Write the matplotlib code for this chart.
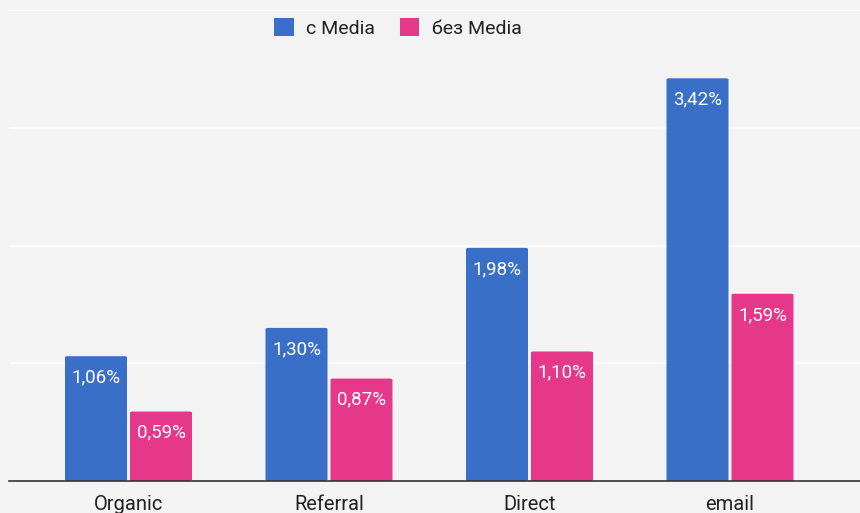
import matplotlib
matplotlib.use("Agg")
import matplotlib.pyplot as plt
from matplotlib.patches import FancyBboxPatch
import numpy as np

plt.rcParams['font.family'] = ['Roboto', 'DejaVu Sans']

categories = ["Organic", "Referral", "Direct", "email"]
with_media = [1.06, 1.30, 1.98, 3.42]
without_media = [0.59, 0.87, 1.10, 1.59]
series_names = ["с Media", "без Media"]

BLUE = "#3a6fc7"
PINK = "#e6388a"
BG = "#f3f3f3"

fig = plt.figure(figsize=(8.6, 5.13), dpi=100, facecolor=BG)
ax = fig.add_axes([9 / 860, 32 / 513, 851 / 860, 471 / 513], facecolor=BG)

x = np.arange(len(categories))
w = 62 / 200.5
off = (62 + 3) / 2 / 200.5


def fmt(v):
    return f"{v:.2f}".replace(".", ",") + "%"


def draw_bars(xs, vals, color):
    for xi, v in zip(xs, vals):
        p = FancyBboxPatch((xi - w / 2, 0), w, v,
                           boxstyle="round,pad=0,rounding_size=0.012",
                           mutation_aspect=0.94,
                           facecolor=color, edgecolor="none", zorder=3)
        ax.add_patch(p)
        ax.text(xi, v - 0.18, fmt(v), ha="center", va="center",
                color="white", fontsize=13.5, zorder=4)


draw_bars(x - off, with_media, BLUE)
draw_bars(x + off, without_media, PINK)

ax.set_xlim((9 - 128.5) / 200.5, (860 - 128.5) / 200.5)
ax.set_ylim(0, 4.0)
ax.set_yticks([1, 2, 3, 4])
ax.yaxis.grid(True, color="white", linewidth=1.3, zorder=0)
ax.tick_params(axis="y", left=False, labelleft=False)
ax.set_xticks(x)
ax.set_xticklabels(categories, fontsize=14.5, color="#222222")
ax.tick_params(axis="x", length=0, pad=10)
for s in ["top", "right", "left"]:
    ax.spines[s].set_visible(False)
ax.spines["bottom"].set_color("#333333")
ax.spines["bottom"].set_linewidth(1.2)
ax.spines["bottom"].set_zorder(5)

handles = [plt.Rectangle((0, 0), 1, 1, facecolor=BLUE, edgecolor="none"),
           plt.Rectangle((0, 0), 1, 1, facecolor=PINK, edgecolor="none")]
leg = fig.legend(handles, series_names, loc="center", bbox_to_anchor=(398 / 860, 1 - 28 / 513),
                 ncol=2, frameon=False, fontsize=14, handlelength=1.0, handleheight=1.0,
                 columnspacing=1.25, handletextpad=0.65)
for t in leg.get_texts():
    t.set_color("#222222")

fig.savefig("out.png", dpi=100, facecolor=BG)
